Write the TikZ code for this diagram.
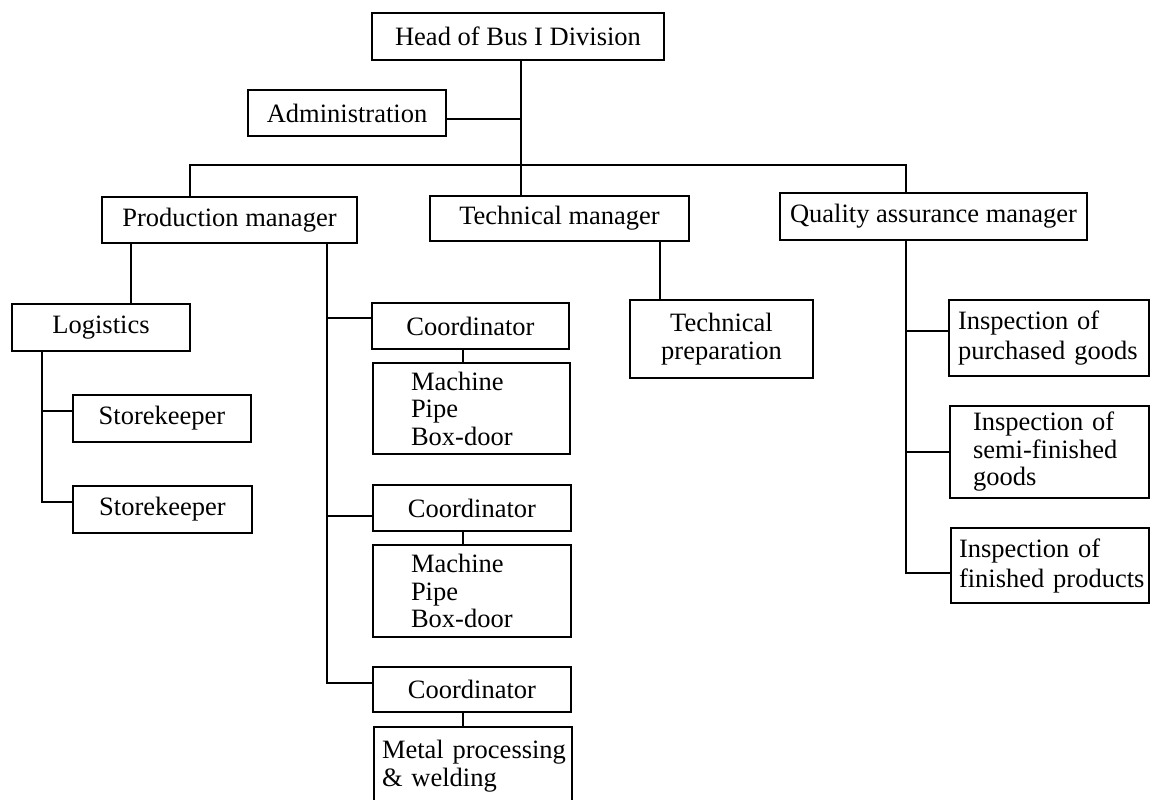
\documentclass[tikz,border=0pt]{standalone}
\usepackage{fontspec}
\setmainfont{Liberation Serif}
\usetikzlibrary{calc}
\begin{document}
\begin{tikzpicture}[x=1pt,y=-1pt,
  box/.style={draw, line width=1.8pt, inner sep=0pt, font={\fontsize{26.5}{27.5}\selectfont}, align=center},
  cbox/.style 2 args={box, minimum width=#1, minimum height=#2},
  lbox/.style n args={3}{box, align=left, text width=#1, inner xsep=#2, minimum height=#3},
  wide/.style={font={\fontsize{26.5}{30}\selectfont}},
  conn/.style={line width=2pt}]
\useasboundingbox (0,0) rectangle (1151,800);
\fill[white] (0,0) rectangle (1151,800);

% boxes
\node[cbox={292}{47}] (head) at (518,36.5) {Head of Bus I Division};
\node[cbox={198}{46}] (admin) at (347,113) {Administration};
\node[cbox={255}{46}] (pm) at (229.5,220) {Production manager};
\node[cbox={259}{45}] (tm) at (559.5,218.5) {Technical manager};
\node[cbox={307}{47}] (qa) at (933.5,216.5) {Quality assurance manager};
\node[cbox={178}{47}] (log) at (101,327.5) {Logistics};
\node[cbox={178}{47}] (sk1) at (162,418.5) {Storekeeper};
\node[cbox={179}{47}] (sk2) at (162.5,509.5) {Storekeeper};
\node[cbox={197}{46}] (c1) at (470.5,326) {Coordinator};
\node[lbox={121}{38}{91}] (m1) at (471.5,408.5) {Machine\\Pipe\\Box-door};
\node[cbox={198}{46}] (c2) at (472,508) {Coordinator};
\node[lbox={122}{38}{92}] (m2) at (472,591) {Machine\\Pipe\\Box-door};
\node[cbox={198}{45}] (c3) at (472,689.5) {Coordinator};
\node[lbox={182}{8}{78}] (metal) at (473,766) {\mbox{Metal processing}\\\mbox{\& welding}};
\node[cbox={183}{78}] (tp) at (721.5,339) {Technical\\preparation};
\node[lbox={182}{9}{76}, wide] (ip) at (1049,338) {\mbox{Inspection of}\\\mbox{purchased goods}};
\node[lbox={153}{23}{92}] (is) at (1049.5,452) {\mbox{Inspection of}\\\mbox{semi-finished}\\\mbox{goods}};
\node[lbox={182}{8}{75}, wide] (ifp) at (1050,565.5) {\mbox{Inspection of}\\\mbox{finished products}};

% helper coordinates
\coordinate (hv) at (521,0);
\coordinate (busL) at (190,165);
\coordinate (busR) at (905.5,165);
\coordinate (pmL) at (131,0);
\coordinate (pmR) at (327,0);
\coordinate (lv) at (42,0);
\coordinate (cv) at (463,0);
\coordinate (tv) at (660,0);

% connectors
\draw[conn] (head.south -| hv) -- (tm.north -| hv);
\draw[conn] ([yshift=-6pt]admin.east) -- ([yshift=-6pt]admin.east -| hv);
\draw[conn] (pm.north -| busL) -- (busL) -- (busR) -- (qa.north -| busR);
\draw[conn] (pm.south -| pmL) -- (log.north -| pmL);
\draw[conn] (log.south -| lv) -- ([yshift=8pt]sk2.west -| lv) -- ([yshift=8pt]sk2.west);
\draw[conn] ([yshift=8pt]sk1.west -| lv) -- ([yshift=8pt]sk1.west);
\draw[conn] (pm.south -| pmR) -- ([yshift=6.5pt]c3.west -| pmR) -- ([yshift=6.5pt]c3.west);
\draw[conn] ([yshift=8pt]c1.west -| pmR) -- ([yshift=8pt]c1.west);
\draw[conn] ([yshift=-8pt]c2.west -| pmR) -- ([yshift=-8pt]c2.west);
\draw[conn] (c1.south -| cv) -- (m1.north -| cv);
\draw[conn] (c2.south -| cv) -- (m2.north -| cv);
\draw[conn] (c3.south -| cv) -- (metal.north -| cv);
\draw[conn] (tm.south -| tv) -- (tp.north -| tv);
\draw[conn] (qa.south -| busR) -- ([yshift=-7.5pt]ifp.west -| busR) -- ([yshift=-7.5pt]ifp.west);
\draw[conn] ([yshift=7pt]ip.west -| busR) -- ([yshift=7pt]ip.west);
\draw[conn] (is.west -| busR) -- (is.west);
\end{tikzpicture}
\end{document}
